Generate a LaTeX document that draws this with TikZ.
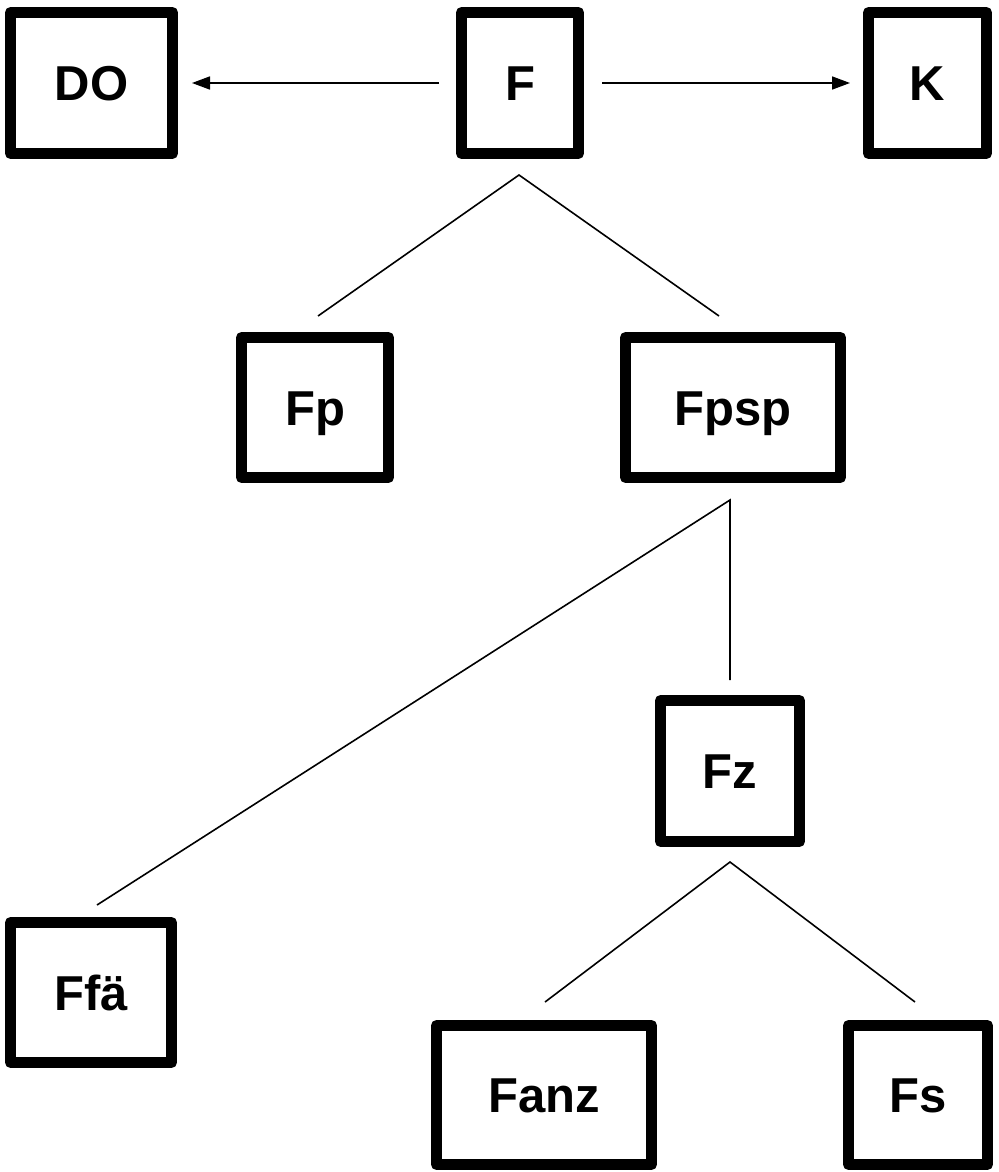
\documentclass[tikz,border=0pt]{standalone}
\usepackage{fontspec}
\setmainfont{Liberation Sans}
\usetikzlibrary{arrows.meta}
\tikzset{
  box/.style={draw=black, line width=5.5pt, line join=round, fill=white,
    inner sep=0pt, outer sep=0pt, text height=17.5pt, text depth=0pt,
    font=\fontsize{24.5pt}{28pt}\selectfont\bfseries},
  link/.style={draw=black, line width=0.8pt},
  arr/.style={link, -{Triangle[length=9pt,width=6.5pt]}}
}
\begin{document}
\begin{tikzpicture}[x=0.5pt,y=-0.5pt]
\useasboundingbox (0,0) rectangle (998,1172);
\node[box, minimum width=81pt,   minimum height=70.5pt] (DO)   at (91.5,83)  {DO};
\node[box, minimum width=58.5pt, minimum height=70.5pt] (F)    at (520,83)   {F};
\node[box, minimum width=59pt,   minimum height=70.5pt] (K)    at (927.5,83) {K};
\node[box, minimum width=73.5pt, minimum height=70pt]   (Fp)   at (315,407.5) {Fp};
\node[box, minimum width=107.5pt,minimum height=70pt]   (Fpsp) at (733,407.5) {Fpsp};
\node[box, minimum width=69.5pt, minimum height=70.5pt] (Fz)   at (730,771)   {Fz};
\node[box, minimum width=80.5pt, minimum height=70pt]   (Ffa)  at (91,992.5)  {Ffä};
\node[box, minimum width=107.5pt,minimum height=69.5pt] (Fanz) at (544,1095)  {Fanz};
\node[box, minimum width=69.5pt, minimum height=69.5pt] (Fs)   at (918,1095)  {Fs};
% connector end points
\coordinate (Fbot)    at ([shift={(-1,21.5)}]F.south);
\coordinate (Fptop)   at ([shift={(3,-21.5)}]Fp.north);
\coordinate (Fpsptop) at ([shift={(-14,-21.5)}]Fpsp.north);
\coordinate (Fpspbot) at ([shift={(-3,22.5)}]Fpsp.south);
\coordinate (Fztop)   at ([shift={(0,-20.5)}]Fz.north);
\coordinate (Ffatop)  at ([shift={(6,-17.5)}]Ffa.north);
\coordinate (Fzbot)   at ([shift={(0,20.5)}]Fz.south);
\coordinate (Fanztop) at ([shift={(1,-23.5)}]Fanz.north);
\coordinate (Fstop)   at ([shift={(-3,-23.5)}]Fs.north);
\coordinate (Fwest)   at ([shift={(-22.5,0)}]F.west);
\coordinate (DOeast)  at ([shift={(19.5,0)}]DO.east);
\coordinate (Feast)   at ([shift={(23.5,0)}]F.east);
\coordinate (Kwest)   at ([shift={(-18.5,0)}]K.west);
% connectors
\draw[link] (Fptop) -- (Fbot) -- (Fpsptop);
\draw[link] (Ffatop) -- (Fpspbot) -- (Fztop);
\draw[link] (Fanztop) -- (Fzbot) -- (Fstop);
\draw[arr] (Fwest) -- (DOeast);
\draw[arr] (Feast) -- (Kwest);
\end{tikzpicture}
\end{document}
